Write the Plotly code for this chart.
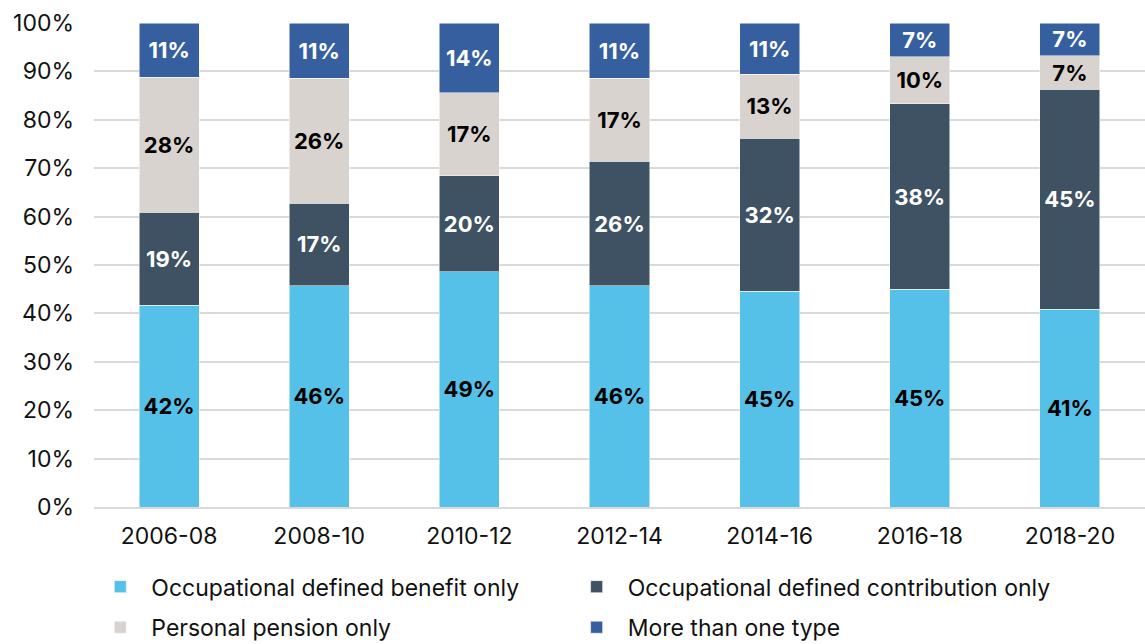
import plotly.graph_objects as go

# shares of pension type by period (%)
periods = ["2006-08", "2008-10", "2010-12", "2012-14", "2014-16", "2016-18", "2018-20"]
db_only = [41.7, 45.7, 48.6, 45.7, 44.6, 45.0, 40.9]
dc_only = [19.2, 17.1, 19.8, 25.7, 31.6, 38.3, 45.4]
personal_only = [27.9, 25.8, 17.2, 17.2, 13.2, 9.7, 6.9]
more_than_one = [11.2, 11.4, 14.4, 11.4, 10.6, 7.0, 6.8]
y_ticks = [0, 10, 20, 30, 40, 50, 60, 70, 80, 90, 100]
y_labels = [f"{v}%" for v in y_ticks]

FONT = "Inter, Roboto, Arial, sans-serif"

# name, values, fill, label colour, legend slot
series = [
    ("Occupational defined benefit only", db_only, "#56C1E8", "black", "legend"),
    ("Occupational defined contribution only", dc_only, "#3F5263", "white", "legend2"),
    ("Personal pension only", personal_only, "#D8D3CE", "black", "legend3"),
    ("More than one type", more_than_one, "#365FA0", "white", "legend4"),
]

fig = go.Figure()
for name, vals, col, txtcol, leg in series:
    fig.add_trace(go.Bar(
        x=periods, y=vals, name=name, showlegend=True,
        marker=dict(color=col, line=dict(color="white", width=0.5)),
        texttemplate="%{y:.0f}%", textposition="inside",
        insidetextanchor="middle", constraintext="none",
        textfont=dict(family=FONT, size=22, color=txtcol, weight="bold"),
        legend=leg, hoverinfo="skip",
    ))

# one legend per entry so the 2x2 grid can be placed exactly
leg_common = dict(
    orientation="h", xanchor="left", yanchor="middle",
    xref="container", yref="container", itemwidth=52,
    font=dict(family=FONT, size=23, color="#111111"),
    bgcolor="rgba(0,0,0,0)",
)
col_x = [0.078, 0.494]
row_y = [0.089, 0.026]

fig.update_layout(
    width=1145, height=644,
    margin=dict(l=94, r=0, t=23, b=137),
    barmode="stack", bargap=0.6, showlegend=True,
    plot_bgcolor="white", paper_bgcolor="white",
    font=dict(family=FONT, size=23, color="#111111"),
    uniformtext=dict(minsize=22, mode="show"),
    legend=dict(x=col_x[0], y=row_y[0], **leg_common),
    legend2=dict(x=col_x[1], y=row_y[0], **leg_common),
    legend3=dict(x=col_x[0], y=row_y[1], **leg_common),
    legend4=dict(x=col_x[1], y=row_y[1], **leg_common),
)

fig.update_yaxes(
    range=[0, 100], tickmode="array", tickvals=y_ticks, ticktext=y_labels,
    showgrid=True, gridcolor="#D9D9D9", gridwidth=1.5,
    zeroline=False, showline=False, ticks="", ticklabelstandoff=19,
    automargin=False,
    tickfont=dict(family=FONT, size=23, color="#111111"),
)
fig.update_xaxes(
    type="category",
    showline=True, linecolor="#D9D9D9", linewidth=1.5,
    ticks="", ticklabelstandoff=8, automargin=False,
    tickfont=dict(family=FONT, size=23, color="#111111"),
)

# page body has a default 8px margin; drop it so the figure fills the window
fig.write_html("out.html", config={"displayModeBar": False},
               post_script="document.body.style.margin='0';")
